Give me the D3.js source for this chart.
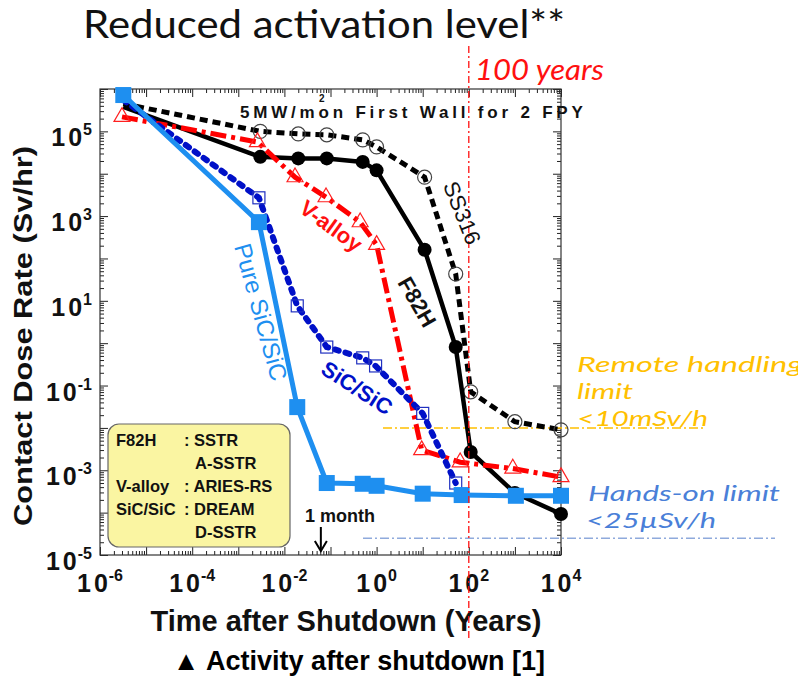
<!DOCTYPE html>
<html>
<head>
<meta charset="utf-8">
<script src="https://cdn.jsdelivr.net/npm/d3@7"></script>
<style>
  html, body { margin: 0; padding: 0; background: #fff; }
  svg { display: block; }
</style>
</head>
<body>
<svg id="chart" width="798" height="677"></svg>
<script>
// Contact dose rate (Sv/hr) versus time after shutdown (years)
const ss316Time  = [3.2e-6, 3.0e-3, 0.02, 0.083, 0.5, 1.0, 11, 52, 110, 1000, 10000];
const ss316Dose  = [4.5e5, 1.0e5, 8.7e4, 8.3e4, 6.3e4, 4.3e4, 8.3e3, 43, 0.071, 0.014, 0.009];

const f82hTime   = [3.2e-6, 3.0e-3, 0.02, 0.083, 0.5, 1.0, 11, 52, 110, 1000, 10000];
const f82hDose   = [3.8e5, 2.5e4, 2.3e4, 2.3e4, 1.9e4, 1.2e4, 160, 0.81, 2.7e-3, 2.9e-4, 9.3e-5];

const vAlloyTime = [3.0e-6, 2.6e-3, 0.017, 0.08, 0.44, 1.0, 9.5, 65, 900, 10000];
const vAlloyDose = [2.2e5, 5.6e4, 8.3e3, 2.8e3, 720, 210, 3.0e-3, 1.55e-3, 1.1e-3, 6.9e-4];

const sicTime    = [3.2e-6, 2.8e-3, 0.019, 0.083, 0.5, 0.95, 10, 52];
const sicDose    = [5.5e5, 2.7e3, 7.6, 0.81, 0.45, 0.29, 0.022, 5.0e-4];

const pureTime   = [3.2e-6, 2.8e-3, 0.019, 0.083, 0.5, 1.0, 10, 70, 1050, 10000];
const pureDose   = [7.2e5, 720, 0.031, 5.0e-4, 4.8e-4, 4.3e-4, 2.8e-4, 2.6e-4, 2.5e-4, 2.5e-4];

const xTickExps = [-6, -4, -2, 0, 2, 4];
const yTickExps = [5, 3, 1, -1, -3, -5];

const remoteLimit = 1e-2;    // 10 mSv/h
const handsOnLimit = 2.5e-5; // 25 uSv/h
const markerYear = 100;
const oneMonth = 1 / 12;

const legendRows = [
  ["F82H", ": SSTR"],
  ["", "A-SSTR"],
  ["V-alloy", ": ARIES-RS"],
  ["SiC/SiC", ": DREAM"],
  ["", "D-SSTR"]
];

const svg = d3.select("#chart");
const W = 798, H = 677;
const m = { left: 100, top: 89, right: 237, bottom: 122 };
const pw = W - m.left - m.right, ph = H - m.top - m.bottom;

const x = d3.scaleLog().domain([1e-6, 1e4]).range([m.left, m.left + pw]);
const y = d3.scaleLog().domain([1e-5, 1e6]).range([m.top + ph, m.top]);

const SANS = "'Liberation Sans', Arial, sans-serif";
const CAL = "Lato, 'Open Sans', sans-serif";

// Title
svg.append("text").attr("x", 83).attr("y", 38)
  .attr("font-family", CAL).attr("font-size", 39).attr("fill", "#111")
  .attr("textLength", 482).attr("lengthAdjust", "spacingAndGlyphs")
  .text("Reduced activation level**");

// Frame and log ticks
function minorValues(lo, hi) {
  const out = [];
  for (let e = lo; e < hi; e++) for (let k = 2; k <= 9; k++) out.push(k * Math.pow(10, e));
  return out;
}
const xMajor = d3.range(-6, 5).map(e => Math.pow(10, e));
const yMajor = d3.range(-5, 7).map(e => Math.pow(10, e));
const xMinor = minorValues(-6, 4);
const yMinor = minorValues(-5, 6);

function drawAxis(gen, transform) {
  const g = svg.append("g").attr("transform", transform);
  g.call(gen);
  g.selectAll("text").remove();
  g.select(".domain").remove();
  g.selectAll("line").attr("stroke", "#222").attr("stroke-width", 1);
  return g;
}
const bottomY = m.top + ph, rightX = m.left + pw;
drawAxis(d3.axisBottom(x).tickValues(xMajor).tickSize(-8).tickFormat(""), `translate(0,${bottomY})`);
drawAxis(d3.axisBottom(x).tickValues(xMinor).tickSize(-4).tickFormat(""), `translate(0,${bottomY})`);
drawAxis(d3.axisTop(x).tickValues(xMajor).tickSize(-8).tickFormat(""), `translate(0,${m.top})`);
drawAxis(d3.axisTop(x).tickValues(xMinor).tickSize(-4).tickFormat(""), `translate(0,${m.top})`);
drawAxis(d3.axisLeft(y).tickValues(yMajor).tickSize(-8).tickFormat(""), `translate(${m.left},0)`);
drawAxis(d3.axisLeft(y).tickValues(yMinor).tickSize(-4).tickFormat(""), `translate(${m.left},0)`);
drawAxis(d3.axisRight(y).tickValues(yMajor).tickSize(-8).tickFormat(""), `translate(${rightX},0)`);
drawAxis(d3.axisRight(y).tickValues(yMinor).tickSize(-4).tickFormat(""), `translate(${rightX},0)`);

svg.append("rect").attr("x", m.left).attr("y", m.top).attr("width", pw).attr("height", ph)
  .attr("fill", "none").attr("stroke", "#333").attr("stroke-width", 1.2);

// Power-of-ten tick labels: "1 0" followed by a raised exponent
function powLabel(sel, exp) {
  sel.append("tspan").text("1");
  sel.append("tspan").attr("dx", 3).text("0");
  sel.append("tspan").attr("font-size", 16).attr("dy", -11).attr("dx", 1)
    .text(exp < 0 ? "-" + (-exp) : String(exp));
}
xTickExps.forEach(e => {
  const t = svg.append("text").attr("x", x(Math.pow(10, e))).attr("y", 592)
    .attr("text-anchor", "middle").attr("font-family", SANS).attr("font-weight", "bold")
    .attr("font-size", 25).attr("fill", "#111");
  powLabel(t, e);
});
yTickExps.forEach(e => {
  const t = svg.append("text").attr("x", 92).attr("y", y(Math.pow(10, e)) + 15)
    .attr("text-anchor", "end").attr("font-family", SANS).attr("font-weight", "bold")
    .attr("font-size", 25).attr("fill", "#111");
  powLabel(t, e);
});

// Axis titles and caption
svg.append("text").attr("transform", `translate(32,336) rotate(-90)`)
  .attr("text-anchor", "middle").attr("font-family", SANS).attr("font-weight", "bold")
  .attr("font-size", 26).attr("fill", "#111")
  .attr("textLength", 380).attr("lengthAdjust", "spacingAndGlyphs")
  .text("Contact Dose Rate (Sv/hr)");
svg.append("text").attr("x", 346).attr("y", 631)
  .attr("text-anchor", "middle").attr("font-family", SANS).attr("font-weight", "bold")
  .attr("font-size", 29).attr("fill", "#111").text("Time after Shutdown (Years)");
svg.append("text").attr("x", 359).attr("y", 670)
  .attr("text-anchor", "middle").attr("font-family", SANS).attr("font-weight", "bold")
  .attr("font-size", 27).attr("fill", "#000").text("\u25B2 Activity after shutdown [1]");

// Reference limits
svg.append("line").attr("x1", 383).attr("x2", 705)
  .attr("y1", y(remoteLimit)).attr("y2", y(remoteLimit))
  .attr("stroke", "#FFC000").attr("stroke-width", 1.5).attr("stroke-dasharray", "9,3,2,3");
svg.append("line").attr("x1", 363).attr("x2", 775)
  .attr("y1", y(handsOnLimit)).attr("y2", y(handsOnLimit))
  .attr("stroke", "#8FAADC").attr("stroke-width", 1.5).attr("stroke-dasharray", "9,3,2,3");

// Legend box
const lg = svg.append("g");
lg.append("rect").attr("x", 108).attr("y", 424).attr("width", 182).attr("height", 123)
  .attr("rx", 11).attr("fill", "#FAF5A2").attr("stroke", "#666").attr("stroke-width", 1.2);
legendRows.forEach((r, i) => {
  const yy = 446 + i * 23;
  lg.append("text").attr("x", 116).attr("y", yy).attr("font-family", SANS)
    .attr("font-weight", "bold").attr("font-size", 16.5).attr("fill", "#111").text(r[0]);
  lg.append("text").attr("x", r[1].startsWith(":") ? 184 : 195).attr("y", yy).attr("font-family", SANS)
    .attr("font-weight", "bold").attr("font-size", 16.5).attr("fill", "#111").text(r[1]);
});

// Series
const line = d3.line().x(d => x(d[0])).y(d => y(d[1]));
const zip = (t, v) => t.map((ti, i) => [ti, v[i]]);

const ss316 = zip(ss316Time, ss316Dose);
const f82h = zip(f82hTime, f82hDose);
const valloy = zip(vAlloyTime, vAlloyDose);
const sic = zip(sicTime, sicDose);
const pure = zip(pureTime, pureDose);

// SS316: black dashed, open circles
svg.append("path").datum(ss316).attr("d", line).attr("fill", "none")
  .attr("stroke", "#000").attr("stroke-width", 5).attr("stroke-dasharray", "8,5");
svg.append("g").selectAll("circle").data(ss316.slice(1)).join("circle")
  .attr("cx", d => x(d[0])).attr("cy", d => y(d[1])).attr("r", 7)
  .attr("fill", "none").attr("stroke", "#444").attr("stroke-width", 1.2);

// F82H: black solid, filled circles
svg.append("path").datum(f82h).attr("d", line).attr("fill", "none")
  .attr("stroke", "#000").attr("stroke-width", 4.5).attr("stroke-linejoin", "round");
svg.append("g").selectAll("circle").data(f82h.slice(1)).join("circle")
  .attr("cx", d => x(d[0])).attr("cy", d => y(d[1])).attr("r", 7).attr("fill", "#000");

// V-alloy: red dash-dot, open triangles
svg.append("path").datum(valloy).attr("d", line).attr("fill", "none")
  .attr("stroke", "#FF0000").attr("stroke-width", 5).attr("stroke-dasharray", "16,5,4,5");
const tri = d3.symbol().type(d3.symbolTriangle).size(110);
svg.append("g").selectAll("path").data(valloy).join("path")
  .attr("transform", d => `translate(${x(d[0])},${y(d[1])})`).attr("d", tri)
  .attr("fill", "none").attr("stroke", "#FF2020").attr("stroke-width", 1.2);

// SiC/SiC: dark blue dotted, open squares
svg.append("path").datum(sic).attr("d", line).attr("fill", "none")
  .attr("stroke", "#0010C8").attr("stroke-width", 6).attr("stroke-linecap", "round")
  .attr("stroke-dasharray", "4,7");
svg.append("g").selectAll("rect").data(sic.slice(1)).join("rect")
  .attr("x", d => x(d[0]) - 6).attr("y", d => y(d[1]) - 6).attr("width", 12).attr("height", 12)
  .attr("fill", "none").attr("stroke", "#2030C0").attr("stroke-width", 1.2);

// Pure SiC/SiC: light blue solid, filled squares
svg.append("path").datum(pure).attr("d", line).attr("fill", "none")
  .attr("stroke", "#1E8FF0").attr("stroke-width", 5).attr("stroke-linejoin", "round");
svg.append("g").selectAll("rect").data(pure).join("rect")
  .attr("x", d => x(d[0]) - 8).attr("y", d => y(d[1]) - 8).attr("width", 16).attr("height", 16)
  .attr("fill", "#1E8FF0");

// 100-year marker
svg.append("line").attr("x1", x(markerYear)).attr("x2", x(markerYear)).attr("y1", 46).attr("y2", 640)
  .attr("stroke", "#FF1010").attr("stroke-width", 1.3).attr("stroke-dasharray", "7,3,2,3");
svg.append("text").attr("x", 475).attr("y", 80).attr("font-family", CAL).attr("font-style", "italic")
  .attr("font-size", 28).attr("fill", "#FF1010")
  .attr("textLength", 129).attr("lengthAdjust", "spacingAndGlyphs").text("100 years");

// Irradiation condition
svg.append("text").attr("x", 240).attr("y", 118).attr("font-family", SANS)
  .attr("font-weight", "bold").attr("font-size", 17).attr("letter-spacing", 3.8).attr("fill", "#111")
  .text("5MW/mon First Wall for 2 FPY");
svg.append("text").attr("x", 319).attr("y", 102).attr("font-family", SANS)
  .attr("font-weight", "bold").attr("font-size", 10).attr("fill", "#111").text("2");

// Curve names
function curveLabel(txt, cx, cy, ang, color, weight, size) {
  svg.append("text").attr("transform", `translate(${cx},${cy}) rotate(${ang})`)
    .attr("text-anchor", "middle").attr("dominant-baseline", "central")
    .attr("font-family", SANS).attr("font-weight", weight).attr("font-size", size)
    .attr("fill", color).text(txt);
}
curveLabel("SS316", 462, 213, 68, "#111", "normal", 22);
curveLabel("F82H", 417, 302, 60, "#111", "bold", 22);
curveLabel("V-alloy", 331, 226, 36, "#FF1010", "bold", 22);
curveLabel("SiC/SiC", 357, 388, 33, "#0010C8", "bold", 22);
curveLabel("Pure SiC/SiC", 261, 312, 74.5, "#1E8FF0", "normal", 24);

// One-month pointer
svg.append("text").attr("x", 305).attr("y", 522).attr("font-family", SANS)
  .attr("font-weight", "bold").attr("font-size", 18).attr("fill", "#111").text("1 month");
const ax = x(oneMonth) - 6;
svg.append("line").attr("x1", ax).attr("x2", ax).attr("y1", 527).attr("y2", 550)
  .attr("stroke", "#000").attr("stroke-width", 2);
svg.append("path").attr("d", `M${ax - 6},${541} L${ax},${551} L${ax + 6},${541}`)
  .attr("fill", "none").attr("stroke", "#000").attr("stroke-width", 2);

// Limit annotations
const note = (s, xx, yy, len, color) => svg.append("text").attr("x", xx).attr("y", yy)
  .attr("font-family", CAL).attr("font-style", "italic").attr("font-size", 22)
  .attr("textLength", len).attr("lengthAdjust", "spacingAndGlyphs")
  .attr("fill", color).text(s);
note("Remote handling", 577, 372, 226, "#FFC000");
note("limit", 577, 399, 56, "#FFC000");
note("<10mSv/h", 577, 426, 131, "#FFC000");
note("Hands-on limit", 588, 501, 192, "#4A7FD8");
note("<25\u00B5Sv/h", 586, 528, 130, "#4A7FD8");
</script>
</body>
</html>
